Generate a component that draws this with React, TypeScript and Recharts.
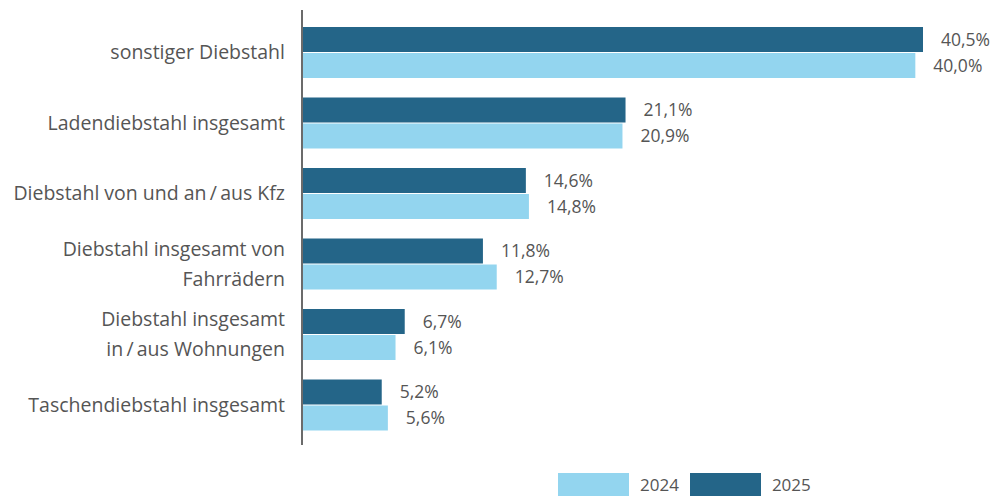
import React from 'react';
import { BarChart, Bar, XAxis, YAxis, LabelList } from 'recharts';

const categories = [
  ['sonstiger Diebstahl'],
  ['Ladendiebstahl insgesamt'],
  ['Diebstahl von und an\u2009/\u2009aus Kfz'],
  ['Diebstahl insgesamt von', 'Fahrrädern'],
  ['Diebstahl insgesamt', 'in\u2009/\u2009aus Wohnungen'],
  ['Taschendiebstahl insgesamt'],
];
const values2025 = [40.5, 21.1, 14.6, 11.8, 6.7, 5.2];
const values2024 = [40.0, 20.9, 14.8, 12.7, 6.1, 5.6];

const DARK = '#246588';
const LIGHT = '#93d5ef';
const TEXT = '#555555';
const FONT = '"Open Sans", sans-serif';

const data = categories.map((lines, i) => ({
  name: lines.join('\n'),
  y2025: values2025[i],
  y2024: values2024[i],
}));

const fmt = (v: any) => `${Number(v).toFixed(1).replace('.', ',')}%`;

const CategoryTick = (props: any) => {
  const { x, y, payload } = props;
  const lines: string[] = String(payload.value).split('\n');
  const lh = 30;
  const start = -((lines.length - 1) * lh) / 2;
  return (
    <text x={x - 9} y={y} textAnchor="end" fill={TEXT} fontSize={19.5} fontFamily={FONT}>
      {lines.map((l, i) => (
        <tspan key={i} x={x - 9} y={y + start + i * lh} dy="0.35em">
          {l}
        </tspan>
      ))}
    </text>
  );
};

const legendItems = [
  { label: '2024', color: LIGHT },
  { label: '2025', color: DARK },
];

const App = () => {
  return (
    <div style={{ position: 'absolute', left: 0, top: 0, width: 998, height: 498, background: '#fff' }}>
      <BarChart
        width={998}
        height={498}
        data={data}
        layout="vertical"
        margin={{ top: 10, right: 6, bottom: 53, left: 0 }}
        barSize={25}
        barGap={1}
      >
        <XAxis type="number" domain={[0, 45]} hide />
        <YAxis
          type="category"
          dataKey="name"
          width={302}
          axisLine={{ stroke: '#6b6b6b', strokeWidth: 2 }}
          tickLine={false}
          tick={<CategoryTick />}
          padding={{ top: 7, bottom: 5 }}
          interval={0}
        />
        <Bar dataKey="y2025" fill={DARK} isAnimationActive={false}>
          <LabelList dataKey="y2025" position="right" offset={18} formatter={fmt} fill={TEXT} fontSize={17.5} fontFamily={FONT} />
        </Bar>
        <Bar dataKey="y2024" fill={LIGHT} isAnimationActive={false}>
          <LabelList dataKey="y2024" position="right" offset={18} formatter={fmt} fill={TEXT} fontSize={17.5} fontFamily={FONT} />
        </Bar>
      </BarChart>
      <div style={{ position: 'absolute', left: 558, top: 473, display: 'flex', alignItems: 'center', fontFamily: FONT, fontSize: 17, color: TEXT }}>
        {legendItems.map((it) => (
          <div key={it.label} style={{ display: 'flex', alignItems: 'center', marginRight: 11 }}>
            <div style={{ width: 71, height: 23, background: it.color, marginRight: 11 }} />
            <span>{it.label}</span>
          </div>
        ))}
      </div>
    </div>
  );
};

export default App;
